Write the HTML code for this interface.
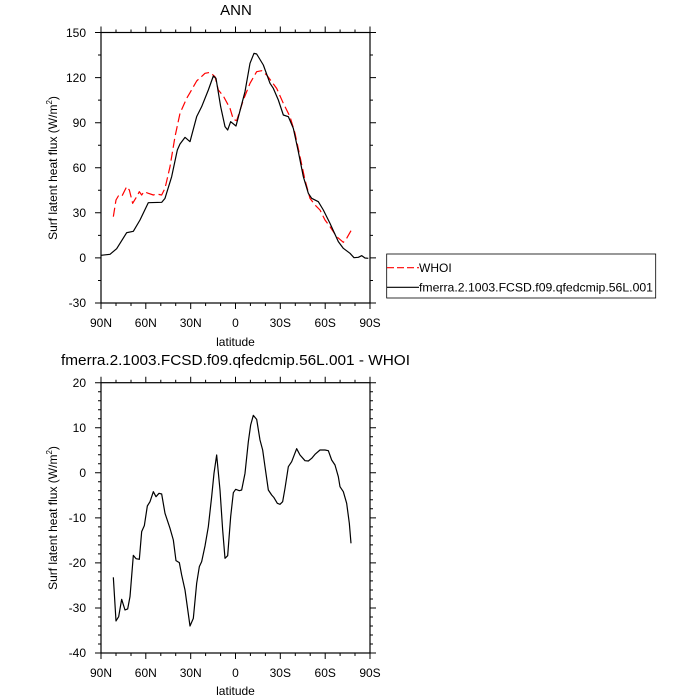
<!DOCTYPE html>
<html><head><meta charset="utf-8"><style>
html,body{margin:0;padding:0;background:#fff}
svg{display:block;font-family:"Liberation Sans",sans-serif}
</style></head><body>
<svg width="700" height="700" viewBox="0 0 700 700" xmlns="http://www.w3.org/2000/svg">
<!-- TOP PLOT -->
<text x="236" y="15" font-size="15" text-anchor="middle">ANN</text>
<rect x="101" y="32.5" width="269" height="270.5" fill="none" stroke="#000" stroke-width="1.2"/>
<g stroke="#000" stroke-width="1">
<path d="M101,32.5v-6M145.8,32.5v-6M190.7,32.5v-6M235.5,32.5v-6M280.3,32.5v-6M325.2,32.5v-6M370,32.5v-6
M101,303v6M145.8,303v6M190.7,303v6M235.5,303v6M280.3,303v6M325.2,303v6M370,303v6"/>
<path d="M116,32.5v-3M131,32.5v-3M160.8,32.5v-3M175.7,32.5v-3M205.6,32.5v-3M220.6,32.5v-3M250.4,32.5v-3M265.4,32.5v-3M295.3,32.5v-3M310.2,32.5v-3M340.1,32.5v-3M355,32.5v-3
M116,303v3M131,303v3M160.8,303v3M175.7,303v3M205.6,303v3M220.6,303v3M250.4,303v3M265.4,303v3M295.3,303v3M310.2,303v3M340.1,303v3M355,303v3"/>
<path d="M101,32.5h-6M101,77.6h-6M101,122.7h-6M101,167.8h-6M101,212.8h-6M101,257.9h-6M101,303h-6
M370,32.5h6M370,77.6h6M370,122.7h6M370,167.8h6M370,212.8h6M370,257.9h6M370,303h6"/>
<path d="M101,55h-3M101,100.1h-3M101,145.2h-3M101,190.3h-3M101,235.4h-3M101,280.5h-3
M370,55h3M370,100.1h3M370,145.2h3M370,190.3h3M370,235.4h3M370,280.5h3"/>
</g>
<g font-size="12" text-anchor="end">
<text x="86" y="37">150</text><text x="86" y="82">120</text><text x="86" y="127">90</text>
<text x="86" y="172">60</text><text x="86" y="217">30</text><text x="86" y="262">0</text><text x="86" y="307">-30</text>
</g>
<g font-size="12" text-anchor="middle">
<text x="101" y="327">90N</text><text x="145.8" y="327">60N</text><text x="190.7" y="327">30N</text>
<text x="235.5" y="327">0</text><text x="280.3" y="327">30S</text><text x="325.2" y="327">60S</text><text x="370" y="327">90S</text>
<text x="235.5" y="346">latitude</text>
</g>
<text transform="translate(57,168) rotate(-90)" font-size="12" text-anchor="middle">Surf latent heat flux (W/m<tspan font-size="8" dy="-5">2</tspan><tspan dy="5">)</tspan></text>
<g transform="translate(90,20) scale(0.33333)" fill="none" stroke-width="3.6" stroke-linejoin="round">
<polyline stroke="#ff0000" stroke-dasharray="27,12" points="70,590 78,540 85,528 95,530 110,500 118,510 128,550 140,530 148,515 155,525 162,515 175,520 190,525 200,522 215,525 225,505 240,440 255,350 270,280 290,235 300,218 320,183 345,160 360,157 375,170 385,210 400,228 420,265 430,298 440,302 460,240 480,190 500,155 515,152 530,165 560,205 580,250 600,290 615,340 630,410 645,480 660,535 675,555 690,570 705,600 720,620 740,650 760,667 770,655 783,632"/>
<polyline stroke="#000" points="33,706 60,703 80,686 110,638 130,634 150,600 175,548 215,547 225,535 245,470 262,390 270,372 285,352 300,365 320,290 335,260 355,210 370,168 378,175 392,260 405,320 413,330 422,305 438,318 448,280 465,215 480,130 492,100 500,102 520,135 540,190 550,205 565,240 580,285 595,290 610,325 625,395 640,470 655,520 665,535 685,545 700,570 720,610 745,665 760,685 780,700 792,713 805,712 815,707 825,714 835,715"/>
</g>
<!-- legend -->
<rect x="386.7" y="254" width="269" height="44" fill="none" stroke="#000" stroke-width="0.8"/>
<line x1="387" y1="267.7" x2="419" y2="267.7" stroke="#ff0000" stroke-width="1.2" stroke-dasharray="7,3"/>
<line x1="387" y1="287.3" x2="419" y2="287.3" stroke="#000" stroke-width="1.2"/>
<text x="419" y="272" font-size="12">WHOI</text>
<text x="419" y="291.5" font-size="12" textLength="234" lengthAdjust="spacingAndGlyphs">fmerra.2.1003.FCSD.f09.qfedcmip.56L.001</text>

<!-- BOTTOM PLOT -->
<text x="235.5" y="365" font-size="15" text-anchor="middle" textLength="349" lengthAdjust="spacingAndGlyphs">fmerra.2.1003.FCSD.f09.qfedcmip.56L.001 - WHOI</text>
<rect x="101" y="382.7" width="269" height="270.3" fill="none" stroke="#000" stroke-width="1.2"/>
<g stroke="#000" stroke-width="1">
<path d="M101,382.7v-6M145.8,382.7v-6M190.7,382.7v-6M235.5,382.7v-6M280.3,382.7v-6M325.2,382.7v-6M370,382.7v-6
M101,653v6M145.8,653v6M190.7,653v6M235.5,653v6M280.3,653v6M325.2,653v6M370,653v6"/>
<path d="M116,382.7v-3M131,382.7v-3M160.8,382.7v-3M175.7,382.7v-3M205.6,382.7v-3M220.6,382.7v-3M250.4,382.7v-3M265.4,382.7v-3M295.3,382.7v-3M310.2,382.7v-3M340.1,382.7v-3M355,382.7v-3
M116,653v3M131,653v3M160.8,653v3M175.7,653v3M205.6,653v3M220.6,653v3M250.4,653v3M265.4,653v3M295.3,653v3M310.2,653v3M340.1,653v3M355,653v3"/>
<path d="M101,382.7h-6M101,427.7h-6M101,472.8h-6M101,517.9h-6M101,562.9h-6M101,608h-6M101,653h-6
M370,382.7h6M370,427.7h6M370,472.8h6M370,517.9h6M370,562.9h6M370,608h6M370,653h6"/>
<path d="M101,391.7h-3M101,400.7h-3M101,409.7h-3M101,418.7h-3M101,436.7h-3M101,445.7h-3M101,454.8h-3M101,463.8h-3M101,481.8h-3M101,490.8h-3M101,499.8h-3M101,508.8h-3M101,526.9h-3M101,535.9h-3M101,544.9h-3M101,553.9h-3M101,571.9h-3M101,580.9h-3M101,590h-3M101,599h-3M101,617h-3M101,626h-3M101,635h-3M101,644h-3
M370,391.7h3M370,400.7h3M370,409.7h3M370,418.7h3M370,436.7h3M370,445.7h3M370,454.8h3M370,463.8h3M370,481.8h3M370,490.8h3M370,499.8h3M370,508.8h3M370,526.9h3M370,535.9h3M370,544.9h3M370,553.9h3M370,571.9h3M370,580.9h3M370,590h3M370,599h3M370,617h3M370,626h3M370,635h3M370,644h3"/>
</g>
<g font-size="12" text-anchor="end">
<text x="86" y="387">20</text><text x="86" y="432">10</text><text x="86" y="477">0</text>
<text x="86" y="522">-10</text><text x="86" y="567">-20</text><text x="86" y="612">-30</text><text x="86" y="657">-40</text>
</g>
<g font-size="12" text-anchor="middle">
<text x="101" y="677">90N</text><text x="145.8" y="677">60N</text><text x="190.7" y="677">30N</text>
<text x="235.5" y="677">0</text><text x="280.3" y="677">30S</text><text x="325.2" y="677">60S</text><text x="370" y="677">90S</text>
<text x="235.5" y="695">latitude</text>
</g>
<text transform="translate(57,518) rotate(-90)" font-size="12" text-anchor="middle">Surf latent heat flux (W/m<tspan font-size="8" dy="-5">2</tspan><tspan dy="5">)</tspan></text>
<g transform="translate(90,370) scale(0.33333)" fill="none" stroke-width="3.6" stroke-linejoin="round">
<polyline stroke="#000" points="70,622 78,753 86,740 95,688 105,720 113,717 120,680 130,556 138,566 148,568 155,485 163,467 172,408 180,395 190,365 198,380 207,370 215,372 225,430 240,475 250,510 258,572 268,578 275,615 285,660 300,768 310,745 320,640 328,590 335,575 345,528 355,470 365,380 372,310 380,255 390,360 398,480 405,565 413,557 422,440 430,368 437,358 448,362 455,360 465,310 475,215 482,165 490,136 500,148 510,210 518,240 525,290 535,360 545,375 552,383 562,400 570,403 578,395 585,355 595,290 605,275 620,236 630,255 645,272 655,273 665,265 675,253 690,240 705,240 715,242 725,270 735,285 745,320 750,350 760,365 770,400 778,460 783,520"/>
</g>
</svg>
</body></html>
